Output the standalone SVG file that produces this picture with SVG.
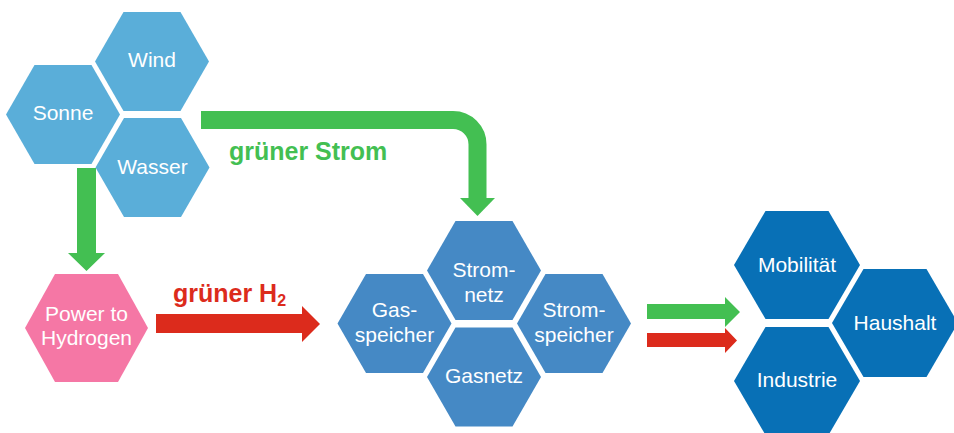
<svg xmlns="http://www.w3.org/2000/svg" xmlns:xlink="http://www.w3.org/1999/xlink" width="954" height="433" viewBox="0 0 954 433">
<style>
.lbl{font-family:"Liberation Sans",Arial,sans-serif;font-size:21px;fill:#ffffff;text-anchor:middle}
.bold{font-family:"Liberation Sans",Arial,sans-serif;font-size:25px;font-weight:bold}
.src{fill:#5aaed9}
.mid{fill:#4589c5}
.dst{fill:#0870b6}
.p2h{fill:#f577a5}
.g{fill:#43bf52}
.r{fill:#dc2b1c}
</style>
<defs>
<polygon id="hs" points="-57,0 -28.5,-49.5 28.5,-49.5 57,0 28.5,49.5 -28.5,49.5"/>
<polygon id="hl" points="-63,0 -31.5,-54 31.5,-54 63,0 31.5,54 -31.5,54"/>
</defs>
<rect width="954" height="433" fill="#ffffff"/>
<g id="connectors">
<polygon class="g" points="77,168 96,168 96,253 105,253 86.5,271 68,253 77,253"/>
<path d="M201,120 H453 A24.5,24.5 0 0 1 477.5,144.5 V199" fill="none" stroke="#43bf52" stroke-width="18"/>
<polygon class="g" points="460,198 495,198 477.5,216"/>
<polygon class="r" points="156,314 302,314 302,306 320,324 302,342 302,333 156,333"/>
<polygon class="g" points="647,304 725,304 725,297 740,312 725,327 725,319 647,319"/>
<polygon class="r" points="647,333 725,333 725,328 737,340.5 725,353 725,347 647,347"/>
<text class="bold" x="229" y="160" fill="#43bf52">grüner Strom</text>
<text class="bold" x="173" y="302" fill="#dc2b1c">grüner H<tspan font-size="16" dy="4">2</tspan></text>
</g>
<g id="wind"><use xlink:href="#hs" href="#hs" class="src" transform="translate(152,61.5)"/><text class="lbl" x="152" y="67">Wind</text></g>
<g id="sonne"><use xlink:href="#hs" href="#hs" class="src" transform="translate(63,114.5)"/><text class="lbl" x="63" y="120">Sonne</text></g>
<g id="wasser"><use xlink:href="#hs" href="#hs" class="src" transform="translate(152.5,167.5)"/><text class="lbl" x="152.5" y="174">Wasser</text></g>
<g id="p2h"><polygon class="p2h" points="25,328 55,274 118,274 148,328 118,382 55,382"/><text class="lbl" x="86.5" y="321">Power to</text><text class="lbl" x="86.5" y="345">Hydrogen</text></g>
<g id="stromnetz"><use xlink:href="#hs" href="#hs" class="mid" transform="translate(484,270.5)"/><text class="lbl" x="484" y="277">Strom-</text><text class="lbl" x="484" y="302">netz</text></g>
<g id="gasspeicher"><use xlink:href="#hs" href="#hs" class="mid" transform="translate(394.5,323.5)"/><text class="lbl" x="394.5" y="317">Gas-</text><text class="lbl" x="394.5" y="342">speicher</text></g>
<g id="stromspeicher"><use xlink:href="#hs" href="#hs" class="mid" transform="translate(574,323.5)"/><text class="lbl" x="574" y="317">Strom-</text><text class="lbl" x="574" y="342">speicher</text></g>
<g id="gasnetz"><use xlink:href="#hs" href="#hs" class="mid" transform="translate(484,377)"/><text class="lbl" x="484" y="383">Gasnetz</text></g>
<g id="mobilitaet"><use xlink:href="#hl" href="#hl" class="dst" transform="translate(797,265)"/><text class="lbl" x="797" y="272">Mobilität</text></g>
<g id="haushalt"><use xlink:href="#hl" href="#hl" class="dst" transform="translate(895,323)"/><text class="lbl" x="895" y="330">Haushalt</text></g>
<g id="industrie"><use xlink:href="#hl" href="#hl" class="dst" transform="translate(797,381)"/><text class="lbl" x="797" y="387">Industrie</text></g>
</svg>
